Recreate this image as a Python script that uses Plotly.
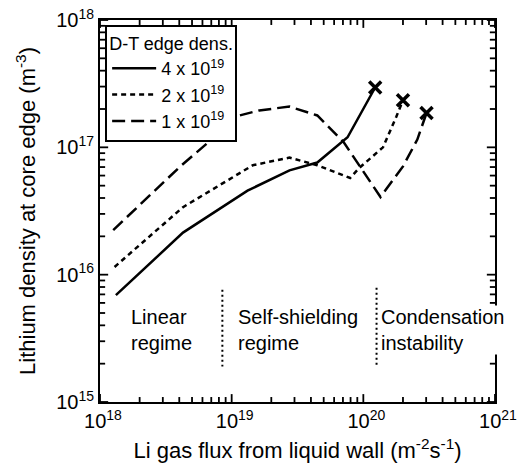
import math
import plotly.graph_objects as go

# ---- data ----
x_4e19 = [1.32e18, 4.27e18, 1.32e19, 2.75e19, 4.47e19, 7.59e19, 1.23e20]
y_4e19 = [6.9e15, 2.14e16, 4.57e16, 6.6e16, 7.6e16, 1.2e17, 2.95e17]

x_2e19 = [1.29e18, 4.27e18, 1.45e19, 2.75e19, 4.47e19, 7.94e19, 9.33e19, 1.41e20, 1.78e20, 2.0e20]
y_2e19 = [1.15e16, 3.39e16, 7.24e16, 8.3e16, 7.24e16, 5.75e16, 6.9e16, 1.0e17, 1.74e17, 2.34e17]

x_1e19 = [1.26e18, 4.07e18, 1.15e19, 1.62e19, 2.75e19, 4.47e19, 7.08e19, 1.35e20, 2.0e20, 2.57e20, 3.02e20]
y_1e19 = [2.24e16, 7.08e16, 1.78e17, 1.95e17, 2.09e17, 1.78e17, 1.10e17, 4.07e16, 7.08e16, 1.15e17, 1.86e17]

divider1_x = [8.5e18, 8.5e18]
divider1_y = [7.6e15, 1.9e15]
divider2_x = [1.26e20, 1.26e20]
divider2_y = [7.9e15, 1.95e15]

x_tickvals = [1e18, 1e19, 1e20, 1e21]
x_ticktext = ["10<sup>18</sup>", "10<sup>19</sup>", "10<sup>20</sup>", "10<sup>21</sup>"]
y_tickvals = [1e15, 1e16, 1e17, 1e18]
y_ticktext = ["10<sup>15</sup>", "10<sup>16</sup>", "10<sup>17</sup>", "10<sup>18</sup>"]
minor_mantissas = [2.0, 3.0, 4.0, 5.0, 6.0, 7.0, 8.0, 9.0]
x_decades = [18, 19, 20]
y_decades = [15, 16, 17]

legend_names = ["4 x 10<sup>19</sup>", "2 x 10<sup>19</sup>", "1 x 10<sup>19</sup>"]

regime_labels = ["Linear<br>regime", "Self-shielding<br>regime", "Condensation<br>instability"]
regime_x = [1.7e18, 1.1e19, 1.35e20]
regime_y = [3.7e15, 3.7e15, 3.7e15]

FONT = "Liberation Sans, Arial, Helvetica, sans-serif"
LW = 2.5
X_RANGE = [18, 21]
Y_RANGE = [15, 18]
# tick lengths in decades (about 8 px major, 5 px minor)
MAJOR_DEC = 0.062
MINOR_DEC = 0.039

fig = go.Figure()
series = [
    (x_4e19, y_4e19, "solid"),
    (x_2e19, y_2e19, "5px,4px"),
    (x_1e19, y_1e19, "13px,6px"),
]
for (xs, ys, dash), name in zip(series, legend_names):
    fig.add_trace(go.Scatter(x=xs, y=ys, mode="lines", name=name,
                             line=dict(color="black", width=LW, dash=dash)))
for xs, ys, _ in series:
    fig.add_trace(go.Scatter(x=[xs[-1]], y=[ys[-1]], mode="markers", showlegend=False,
                             marker=dict(symbol="x-thin", size=12, color="black",
                                         line=dict(color="black", width=3.5))))

for dx, dy in [(divider1_x, divider1_y), (divider2_x, divider2_y)]:
    fig.add_trace(go.Scatter(x=dx, y=dy, mode="lines", showlegend=False,
                             line=dict(color="black", width=2, dash="2px,3px")))

for i, (t, xv, yv) in enumerate(zip(regime_labels, regime_x, regime_y)):
    fig.add_annotation(x=math.log10(xv), y=math.log10(yv), xref="x", yref="y", text=t,
                       showarrow=False, xanchor="left", yanchor="middle", align="left",
                       font=dict(family=FONT, size=20, color="black"),
                       bgcolor="white" if i == 2 else "rgba(0,0,0,0)", borderpad=0)

# inward tick marks on all four sides, drawn on the axis scales
x_minor = [m * 10.0 ** d for d in x_decades for m in minor_mantissas]
y_minor = [m * 10.0 ** d for d in y_decades for m in minor_mantissas]
tx, ty = [], []
for vals, L in [(x_tickvals, MAJOR_DEC), (x_minor, MINOR_DEC)]:
    for v in vals:
        tx += [v, v, None, v, v, None]
        ty += [10.0 ** Y_RANGE[0], 10.0 ** (Y_RANGE[0] + L), None,
               10.0 ** Y_RANGE[1], 10.0 ** (Y_RANGE[1] - L), None]
for vals, L in [(y_tickvals, MAJOR_DEC), (y_minor, MINOR_DEC)]:
    for v in vals:
        ty += [v, v, None, v, v, None]
        tx += [10.0 ** X_RANGE[0], 10.0 ** (X_RANGE[0] + L), None,
               10.0 ** X_RANGE[1], 10.0 ** (X_RANGE[1] - L), None]
fig.add_trace(go.Scatter(x=tx, y=ty, mode="lines", showlegend=False, hoverinfo="skip",
                         line=dict(color="black", width=1.8), cliponaxis=False))

axis_common = dict(type="log", showgrid=False, zeroline=False, showline=True,
                   linecolor="black", linewidth=2, mirror=True,
                   ticks="", tickfont=dict(family=FONT, size=20, color="black"))

fig.update_xaxes(range=X_RANGE, tickvals=x_tickvals, ticktext=x_ticktext, ticklabelshift=3,
                 title=dict(text="Li gas flux from liquid wall (m<sup>-2</sup>s<sup>-1</sup>)",
                            font=dict(family=FONT, size=22, color="black"), standoff=12),
                 **axis_common)
fig.update_yaxes(range=Y_RANGE, tickvals=y_tickvals, ticktext=y_ticktext,
                 title=dict(text="Lithium density at core edge (m<sup>-3</sup>)",
                            font=dict(family=FONT, size=22, color="black"), standoff=14),
                 **axis_common)

fig.update_layout(
    width=527, height=466,
    margin=dict(l=100, r=32, t=20, b=64, autoexpand=False),
    paper_bgcolor="white", plot_bgcolor="white",
    font=dict(family=FONT, color="black"),
    showlegend=True,
    legend=dict(x=0.013, y=0.988, xanchor="left", yanchor="top",
                bgcolor="white", bordercolor="black", borderwidth=2,
                title=dict(text="D-T edge dens.", font=dict(family=FONT, size=18, color="black")),
                font=dict(family=FONT, size=18, color="black"),
                tracegroupgap=0, itemwidth=44),
)

fig.write_html("out.html", config={"displayModeBar": False},
               post_script="document.body.style.margin='0px';")
